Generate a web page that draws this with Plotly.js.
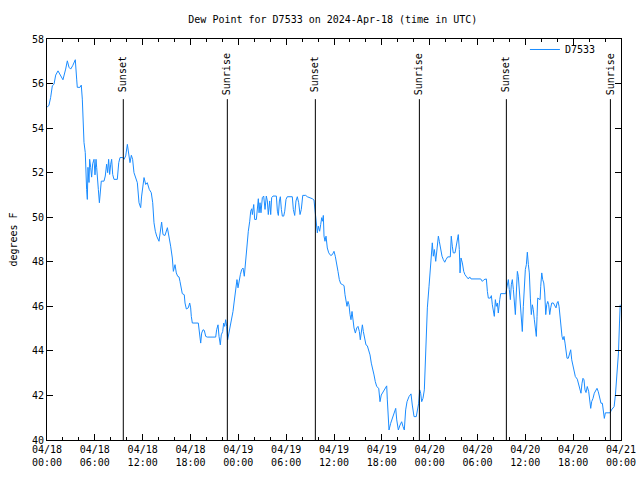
<!DOCTYPE html>
<html>
<head>
<meta charset="utf-8">
<script src="https://cdn.plot.ly/plotly-3.0.1.min.js"></script>
<style>html,body{margin:0;padding:0;background:#fff;}#chart{width:640px;height:480px;}</style>
</head>
<body>
<div id="chart"></div>
<script>
// Hours after 2024-04-18 00:00 UTC
const hours = [
0,0.25,0.46,0.67,0.88,1.09,1.38,1.71,2.0,2.34,2.55,2.76,2.97,3.22,3.39,3.55,3.72,3.8,4.14,4.3,4.43,4.55,4.64,4.8,4.85,4.97,5.06,5.14,5.27,5.35,5.48,5.6,5.73,5.9,6.02,6.15,6.23,6.31,6.44,6.57,6.65,6.81,7.15,7.31,7.48,7.61,7.73,7.86,7.99,8.11,8.24,8.4,8.82,9.0,9.16,9.5,9.66,9.87,10.08,10.24,10.41,10.58,10.74,10.91,11.12,11.33,11.54,11.75,11.87,12.0,12.17,12.38,12.58,12.83,13.08,13.26,13.42,13.59,13.76,14.05,
14.26,14.38,14.55,14.8,15.1,15.3,15.51,15.72,15.85,16.06,16.22,16.39,16.56,16.68,16.85,16.97,17.22,17.31,17.48,17.72,17.9,18.02,18.1,18.23,18.98,19.07,19.19,19.28,19.4,19.57,19.73,19.91,20.11,21.16,21.28,21.45,21.58,21.74,21.86,22.04,22.16,22.29,22.41,22.54,22.66,22.79,22.91,23.04,23.17,23.33,23.46,23.58,23.71,23.83,23.96,24.12,24.25,24.42,24.59,24.75,24.88,25.0,25.13,25.25,25.43,25.55,25.68,25.76,25.93,26.05,26.26,26.38,26.51,26.6,26.72,26.84,27.01,27.18,27.35,27.51,27.64,27.76,27.93,28.06,28.18,28.35,28.77,
28.9,29.02,29.15,29.27,29.4,29.52,29.69,29.82,29.98,30.14,30.77,30.9,31.07,31.23,31.4,31.57,31.74,31.9,32.08,32.45,32.65,32.99,33.28,33.49,33.58,33.66,33.78,33.91,34.03,34.2,34.33,34.46,34.58,34.66,34.75,34.87,35.0,35.16,35.34,35.59,35.79,36.0,36.16,36.34,36.5,36.67,36.84,37.09,37.26,37.38,37.51,37.63,37.76,37.88,38.01,38.13,38.26,38.38,38.51,38.68,38.85,39.01,39.18,39.3,39.43,39.56,39.68,39.85,40.01,40.18,40.35,40.52,40.68,40.86,41.02,41.18,41.36,41.61,41.77,41.93,42.19,42.44,42.61,42.69,42.81,
42.9,43.11,43.31,43.53,43.74,43.87,44.07,44.28,44.49,44.66,44.82,44.99,45.16,45.41,45.66,45.82,46.04,46.32,46.5,46.62,46.75,46.87,47.0,47.16,47.33,47.5,47.71,47.92,48.08,48.21,48.33,48.46,48.59,48.76,48.96,49.09,49.21,49.39,49.55,49.71,49.89,50.05,50.26,50.59,50.71,50.84,50.96,51.18,51.34,51.47,51.59,51.72,51.81,51.93,52.1,52.27,52.43,52.64,52.85,53.02,53.19,54.4,54.61,54.82,55.11,55.24,55.36,55.61,55.74,55.86,55.99,56.11,56.24,56.36,56.49,56.61,56.79,56.91,57.54,
57.74,57.87,57.99,58.12,58.24,58.37,58.5,58.62,58.75,58.87,59.0,59.12,59.25,59.37,59.5,59.62,59.75,59.88,60.0,60.13,60.25,60.38,60.5,60.63,60.75,60.88,61.0,61.13,61.25,61.38,61.47,61.55,61.72,61.85,61.93,62.06,62.18,62.31,62.43,62.56,62.68,62.81,62.93,63.06,63.18,63.31,63.51,63.69,63.85,63.98,64.1,64.23,64.35,64.48,64.6,64.73,64.85,64.98,65.1,65.23,65.39,65.52,65.69,65.82,65.94,66.11,66.27,66.52,66.7,66.86,66.98,67.11,67.23,67.36,67.48,67.61,67.77,67.95,68.07,68.2,68.32,68.49,68.65,68.82,68.99,69.15,69.33,69.49,69.66,69.79,69.91,70.04,70.63,70.8,71.01,71.14,71.3,71.43,71.56,71.68,71.81,71.9
];
// Dew point, degrees F
const dewF = [
54.93,55.03,55.38,55.9,55.97,56.38,56.57,56.38,56.17,56.65,57.02,56.73,56.65,56.8,56.95,57.07,56.2,55.83,55.83,55.93,55.3,54.17,53.36,52.9,52.24,51.25,50.8,52.24,51.56,52.6,52.24,51.8,52.4,52.6,51.9,52.6,52.24,51.62,51.25,50.65,50.95,51.62,51.62,51.85,52.38,52.0,52.6,51.92,52.38,52.6,51.92,51.7,51.7,52.45,52.68,52.68,52.6,52.75,53.27,52.9,52.45,52.78,52.6,52.0,51.78,51.55,50.65,50.43,50.95,51.4,51.78,51.47,51.55,51.25,51.1,50.65,49.75,49.37,49.15,48.92,
49.6,49.78,49.22,49.18,49.53,49.15,48.7,48.17,47.57,47.87,47.5,47.35,47.32,47.12,46.67,46.57,46.52,46.15,45.88,45.93,46.15,45.93,45.55,45.25,45.25,44.87,44.65,44.35,44.8,44.95,44.92,44.65,44.62,44.62,44.95,45.17,44.65,44.27,44.72,44.87,45.25,45.1,45.4,45.1,44.5,44.72,44.95,45.17,45.4,45.77,46.15,46.52,46.97,47.2,46.83,47.2,47.42,47.65,47.72,47.35,47.95,48.47,48.92,49.37,49.82,50.27,50.38,50.12,50.57,49.9,49.9,50.5,50.83,50.2,50.65,50.2,50.88,50.95,50.35,50.95,50.73,50.12,50.73,50.12,50.88,50.95,50.95,
50.27,50.08,50.73,50.92,50.35,50.05,50.05,50.27,50.8,50.92,50.92,50.35,50.08,50.73,50.92,50.65,50.12,50.35,50.98,50.98,50.92,50.88,50.83,50.77,50.5,49.98,49.67,49.3,49.6,49.37,49.67,49.98,49.82,50.08,49.15,48.92,49.15,48.62,48.4,48.28,48.32,48.47,48.25,47.95,47.57,47.2,47.02,46.97,46.93,46.52,46.27,46.0,46.22,46.07,45.63,45.4,45.77,45.32,45.03,44.8,45.03,45.1,44.87,44.5,44.95,45.17,44.87,44.57,44.27,44.23,44.05,43.82,43.45,43.07,42.92,42.62,42.4,42.32,41.72,42.02,42.17,42.32,42.43,41.8,41.2,
40.45,40.75,40.97,41.27,41.42,40.9,40.45,40.67,40.82,40.6,40.45,41.35,41.72,41.95,42.07,41.57,41.05,41.05,41.35,41.65,42.25,42.1,41.72,41.87,42.25,44.05,45.93,46.9,47.65,48.4,48.85,48.25,48.55,48.02,48.7,49.15,48.92,48.47,48.25,48.1,47.98,48.1,48.22,48.22,49.15,48.7,48.4,48.4,48.77,49.03,49.22,48.55,47.5,48.17,47.95,47.57,47.42,47.32,47.23,47.32,47.23,47.23,47.12,47.2,47.23,46.67,46.37,46.37,46.48,46.07,45.85,45.55,46.3,46.0,46.15,45.7,46.3,46.57,46.57,
47.05,47.2,46.75,46.3,46.97,47.2,46.75,46.0,45.63,46.6,47.57,47.35,46.75,46.0,45.25,44.87,46.0,46.9,47.65,47.87,48.43,47.87,47.5,46.37,45.63,46.07,45.85,45.4,44.95,44.65,45.55,46.37,46.33,46.3,46.9,47.5,47.2,47.05,46.6,45.63,46.07,46.22,46.07,45.63,45.93,46.15,46.15,46.03,45.93,46.15,46.22,46.0,45.55,45.03,44.65,44.5,44.65,44.35,43.9,43.67,43.67,43.9,44.05,43.6,43.37,43.22,42.85,42.73,42.47,42.25,42.1,42.55,42.77,42.7,42.25,42.13,42.4,42.17,41.8,41.42,41.72,41.87,42.1,42.25,42.32,42.17,41.87,41.65,41.65,41.2,40.97,41.22,41.22,41.35,41.42,41.5,42.02,42.55,43.15,43.9,45.25,46.07
];
// Sun events (hours after 2024-04-18 00:00 UTC)
const eventHours = [9.57, 22.62, 33.66, 46.71, 57.62, 70.67];
const eventLabels = ["Sunset", "Sunrise", "Sunset", "Sunrise", "Sunset", "Sunrise"];
const seriesName = "D7533";

const base = Date.UTC(2024, 3, 18);
function stamp(h) {
  return new Date(base + Math.round(h * 3600000)).toISOString().replace('T', ' ').slice(0, 19);
}
const xTimes = hours.map(stamp);
const font = {family: "DejaVu Sans Mono, monospace", size: 10, color: "#000"};

const shapes = eventHours.map(h => ({
  type: 'line', xref: 'x', yref: 'paper', x0: stamp(h), x1: stamp(h), y0: 0, y1: 0.85,
  line: {color: '#000', width: 1}
}));
const annotations = eventHours.map((h, i) => ({
  x: stamp(h), xref: 'x', yref: 'paper', y: 0.913, text: eventLabels[i], textangle: -90,
  showarrow: false, font: font, xanchor: 'center', yanchor: 'middle'
}));

const trace = {
  x: xTimes, y: dewF, type: 'scatter', mode: 'lines', name: seriesName,
  line: {color: '#1a8cff', width: 1}
};

const layout = {
  width: 640, height: 480,
  margin: {l: 47, r: 19, t: 39, b: 40, pad: 0},
  paper_bgcolor: '#fff', plot_bgcolor: '#fff',
  font: font,
  title: {text: 'Dew Point for D7533 on 2024-Apr-18 (time in UTC)', x: 0.52, xanchor: 'center', y: 0.96, yanchor: 'middle', font: font},
  showlegend: true,
  legend: {x: 0.965, y: 1.01, xanchor: 'right', yanchor: 'top', bgcolor: 'rgba(0,0,0,0)', font: font, itemwidth: 30},
  xaxis: {
    type: 'date', range: ['2024-04-18 00:00:00', '2024-04-21 00:00:00'],
    tick0: '2024-04-18 00:00:00', dtick: 6 * 3600000, tickformat: '%m/%d<br>%H:%M',
    ticks: 'inside', ticklen: 6, tickcolor: '#000', showline: true, linecolor: '#000', linewidth: 1,
    mirror: 'ticks', showgrid: false, zeroline: false, tickfont: font, automargin: false,
    minor: {dtick: 2 * 3600000, ticks: 'inside', ticklen: 3, tickcolor: '#000', showgrid: false}
  },
  yaxis: {
    range: [40, 58], dtick: 2, tick0: 40,
    ticks: 'inside', ticklen: 6, tickcolor: '#000', showline: true, linecolor: '#000', linewidth: 1,
    mirror: 'ticks', showgrid: false, zeroline: false, tickfont: font, automargin: false,
    title: {text: 'degrees F', font: font, standoff: 12}
  },
  shapes: shapes,
  annotations: annotations
};

Plotly.newPlot('chart', [trace], layout, {displayModeBar: false, staticPlot: true});
</script>
</body>
</html>
